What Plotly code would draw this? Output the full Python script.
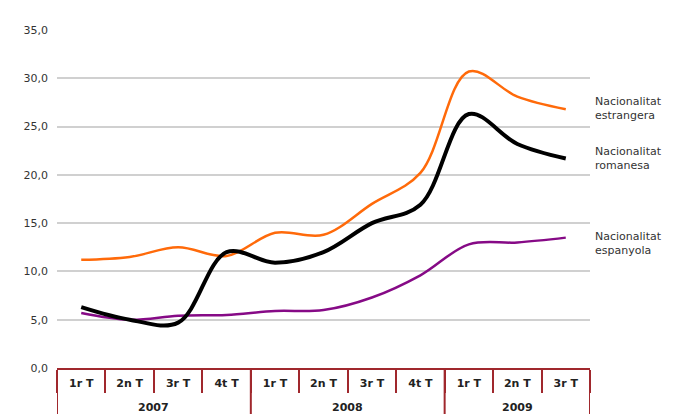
import plotly.graph_objects as go

# two-level category axis
years = ["2007"] * 4 + ["2008"] * 4 + ["2009"] * 3
quarters = ["1r T", "2n T", "3r T", "4t T",
            "1r T", "2n T", "3r T", "4t T",
            "1r T", "2n T", "3r T"]

estrangera = [11.2, 11.5, 12.5, 11.6, 14.0, 13.8, 17.0, 20.2, 30.7, 28.1, 26.8]
romanesa = [6.3, 5.0, 4.7, 12.0, 10.9, 12.0, 15.0, 16.9, 26.3, 23.2, 21.7]
espanyola = [5.7, 5.0, 5.4, 5.5, 5.9, 6.0, 7.3, 9.6, 12.8, 13.0, 13.5]

labels = ["Nacionalitat<br>estrangera", "Nacionalitat<br>romanesa", "Nacionalitat<br>espanyola"]
label_y = [26.9, 21.7, 12.9]

axis_red = "#A0282D"
x = list(range(len(quarters)))

fig = go.Figure()
fig.add_scatter(x=x, y=estrangera, mode="lines", line=dict(color="#FF6A0A", width=2.5, shape="spline", smoothing=1))
fig.add_scatter(x=x, y=espanyola, mode="lines", line=dict(color="#860A86", width=2.5, shape="spline", smoothing=1))
fig.add_scatter(x=x, y=romanesa, mode="lines", line=dict(color="black", width=4, shape="spline", smoothing=1))

for txt, yy in zip(labels, label_y):
    fig.add_annotation(x=1.006, xref="paper", y=yy, yref="y", text=txt, showarrow=False,
                       xanchor="left", align="left",
                       font=dict(family="DejaVu Sans", size=11, color="#333333"))

# year groups: label in the middle, divider at each group edge
groups = []
for i, yr in enumerate(years):
    if not groups or groups[-1][0] != yr:
        groups.append([yr, i, i])
    else:
        groups[-1][2] = i
for yr, a, b in groups:
    fig.add_annotation(x=(a + b) / 2, xref="x", y=0, yref="paper", yshift=-39, text="<b>" + yr + "</b>",
                       showarrow=False, yanchor="middle",
                       font=dict(family="DejaVu Sans", size=11, color="#222222"))
edges = [a - 0.5 for _, a, _ in groups] + [groups[-1][2] + 0.5]
for e in edges:
    fig.add_shape(type="line", x0=e, x1=e, xref="x", y0=0, y1=-0.2, yref="paper",
                  line=dict(color=axis_red, width=2))

fig.update_layout(
    width=683, height=414,
    margin=dict(l=49, r=101, t=22, b=54),
    plot_bgcolor="white", paper_bgcolor="white",
    showlegend=False,
    separators=", ",
    font=dict(family="DejaVu Sans", size=11, color="#333333"),
)
fig.update_yaxes(range=[0, 35], dtick=5, tickformat=".1f", showgrid=True, gridcolor="#D0D0D0",
                 gridwidth=1.5, zeroline=False, showline=False, ticks="", ticklabelstandoff=8,
                 tickfont=dict(family="DejaVu Sans", size=11, color="#333333"))
fig.update_xaxes(range=[-0.5, len(quarters) - 0.5], tickvals=x, ticktext=["<b>" + q + "</b>" for q in quarters],
                 showline=True, linecolor=axis_red, linewidth=2, ticks="", ticklabelstandoff=4,
                 minor=dict(tickvals=[i - 0.5 for i in range(len(quarters) + 1)], ticks="outside",
                            ticklen=23, tickcolor=axis_red, tickwidth=2),
                 showgrid=False, zeroline=False, automargin=False,
                 tickfont=dict(family="DejaVu Sans", size=11, color="#222222"))

fig.write_html("out.html")
